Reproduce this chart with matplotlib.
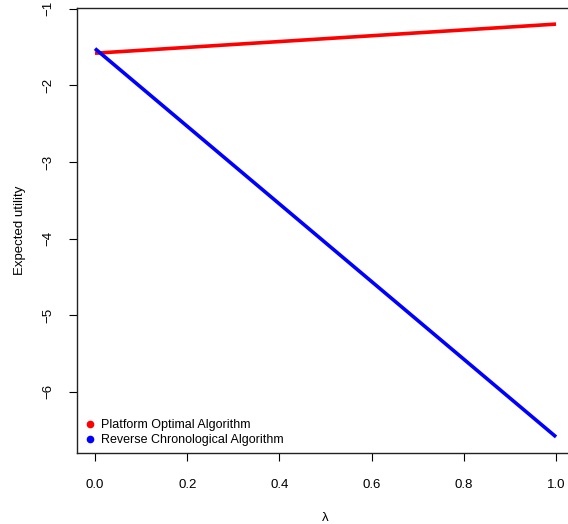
import matplotlib.pyplot as plt

plt.rcParams['font.family'] = ['Liberation Sans', 'DejaVu Sans']

# data
lam = [0.0, 1.0]
platform_optimal = [-1.58, -1.20]
reverse_chrono = [-1.52, -6.59]

x_ticks = [0.0, 0.2, 0.4, 0.6, 0.8, 1.0]
x_tick_labels = ["0.0", "0.2", "0.4", "0.6", "0.8", "1.0"]
y_ticks = [-6, -5, -4, -3, -2, -1]
y_tick_labels = ["\u22126", "\u22125", "\u22124", "\u22123", "\u22122", "\u22121"]

fig = plt.figure(figsize=(5.68, 5.24), dpi=100)
ax = fig.add_axes([0.1356, 0.1355, 0.875, 0.8492])

ax.plot(lam, platform_optimal, color='red', lw=2.6, solid_capstyle='butt')
ax.plot(lam, reverse_chrono, color='blue', lw=2.6, solid_capstyle='butt')

ax.set_xlim(-0.039, 1.039)
ax.set_ylim(-6.80, -0.99)

ax.set_xticks(x_ticks)
ax.set_xticklabels(x_tick_labels)
ax.set_yticks(y_ticks)
ax.set_yticklabels(y_tick_labels, rotation=90, va='center')

ax.tick_params(axis='both', direction='out', length=6, width=0.8, labelsize=9.5, colors='black')
ax.tick_params(axis='x', pad=13)
ax.tick_params(axis='y', pad=10)

for s in ax.spines.values():
    s.set_linewidth(1.0)
    s.set_color('#222222')

ax.set_xlabel("\u03bb", fontsize=9.5, labelpad=15)
ax.set_ylabel("Expected utility", fontsize=9.5, labelpad=12)

h1, = ax.plot([], [], 'o', color='red', ms=4.5)
h2, = ax.plot([], [], 'o', color='blue', ms=4.5)
ax.legend([h1, h2], ["Platform Optimal Algorithm", "Reverse Chronological Algorithm"],
          loc='lower left', bbox_to_anchor=(-0.005, -0.005), frameon=False,
          fontsize=9, handlelength=1.0, handletextpad=0.4, labelspacing=0.25,
          borderaxespad=0.3)

fig.savefig("out.png", dpi=100)
